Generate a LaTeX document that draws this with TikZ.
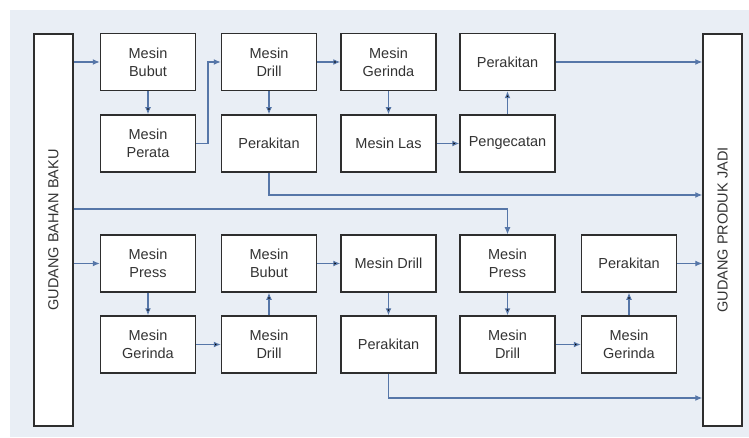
\documentclass[tikz,border=0pt]{standalone}
\usepackage{fontspec}
\setmainfont{Liberation Sans}
\usetikzlibrary{arrows.meta}
\definecolor{panel}{HTML}{E9EEF5}
\definecolor{arrowblue}{HTML}{5676A8}
\definecolor{frame}{HTML}{2E2E2E}

\begin{document}
\begin{tikzpicture}[x=1pt,y=-1pt,
    mesin/.style={shape=rectangle,draw=frame,fill=white,line width=1.5pt,minimum width=95pt,minimum height=57pt,align=center,text=black!80,font=\fontsize{14.5}{18}\selectfont},
    gudang/.style={shape=rectangle,draw=frame,fill=white,line width=1.5pt,minimum width=39pt,minimum height=392pt,text=black!80,font=\fontsize{14.5}{16}\selectfont},
    alir/.style={draw=arrowblue,line width=1.1pt,-{Latex[length=7pt,width=6pt]}}]
            \useasboundingbox (0,0) rectangle (749,438);
            \fill[panel] (10,10) rectangle (749,437);

            \node[gudang] (bahan) at (53.5,230) {\rotatebox{90}{GUDANG BAHAN BAKU}};
            \node[gudang] (produk) at (722.5,230) {\rotatebox{90}{GUDANG PRODUK JADI}};

            \node[mesin] (bubutA) at (148,62) {Mesin\\Bubut};
            \node[mesin] (perataA) at (148,143.5) {Mesin\\Perata};
            \node[mesin] (drillA) at (269,62) {Mesin\\Drill};
            \node[mesin] (rakitA) at (269,143.5) {Perakitan};
            \node[mesin] (gerindaA) at (388.5,62) {Mesin\\Gerinda};
            \node[mesin] (las) at (388.5,143.5) {Mesin Las};
            \node[mesin] (rakitB) at (507.5,62) {Perakitan};
            \node[mesin] (cat) at (507.5,143.5) {Pengecatan};

            \node[mesin] (pressA) at (148,263.5) {Mesin\\Press};
            \node[mesin] (gerindaB) at (148,344.5) {Mesin\\Gerinda};
            \node[mesin] (bubutB) at (269,263.5) {Mesin\\Bubut};
            \node[mesin] (drillB) at (269,344.5) {Mesin\\Drill};
            \node[mesin] (drillC) at (388.5,263.5) {Mesin Drill};
            \node[mesin] (rakitC) at (388.5,344.5) {Perakitan};
            \node[mesin] (pressB) at (507.5,263.5) {Mesin\\Press};
            \node[mesin] (drillD) at (507.5,344.5) {Mesin\\Drill};
            \node[mesin] (rakitD) at (629,263.5) {Perakitan};
            \node[mesin] (gerindaC) at (629,344.5) {Mesin\\Gerinda};

            \coordinate (belok) at (208,143.5);
            \coordinate (jalurA) at (0,195);
            \coordinate (jalurB) at (0,209);
            \coordinate (jalurC) at (0,398);

            \draw [alir] (bahan.east |- bubutA.west) -- (bubutA.west);
            \path [alir] (bubutA) edge (perataA);
            \draw [alir] (perataA.east) -- (belok) |- (drillA.west);
            \path [alir] (drillA) edge (gerindaA);
            \path [alir] (drillA) edge (rakitA);
            \path [alir] (gerindaA) edge (las);
            \path [alir] (las) edge (cat);
            \path [alir] (cat) edge (rakitB);
            \draw [alir] (rakitB.east) -- (produk.west |- rakitB.east);
            \draw [alir] (rakitA.south) |- (produk.west |- jalurA);
            \draw [alir] (bahan.east |- jalurB) -| (pressB.north);

            \draw [alir] (bahan.east |- pressA.west) -- (pressA.west);
            \path [alir] (pressA) edge (gerindaB);
            \path [alir] (gerindaB) edge (drillB);
            \path [alir] (drillB) edge (bubutB);
            \path [alir] (bubutB) edge (drillC);
            \path [alir] (drillC) edge (rakitC);
            \path [alir] (pressB) edge (drillD);
            \path [alir] (drillD) edge (gerindaC);
            \path [alir] (gerindaC) edge (rakitD);
            \draw [alir] (rakitD.east) -- (produk.west |- rakitD.east);
            \draw [alir] (rakitC.south) |- (produk.west |- jalurC);
        \end{tikzpicture}
\end{document}
